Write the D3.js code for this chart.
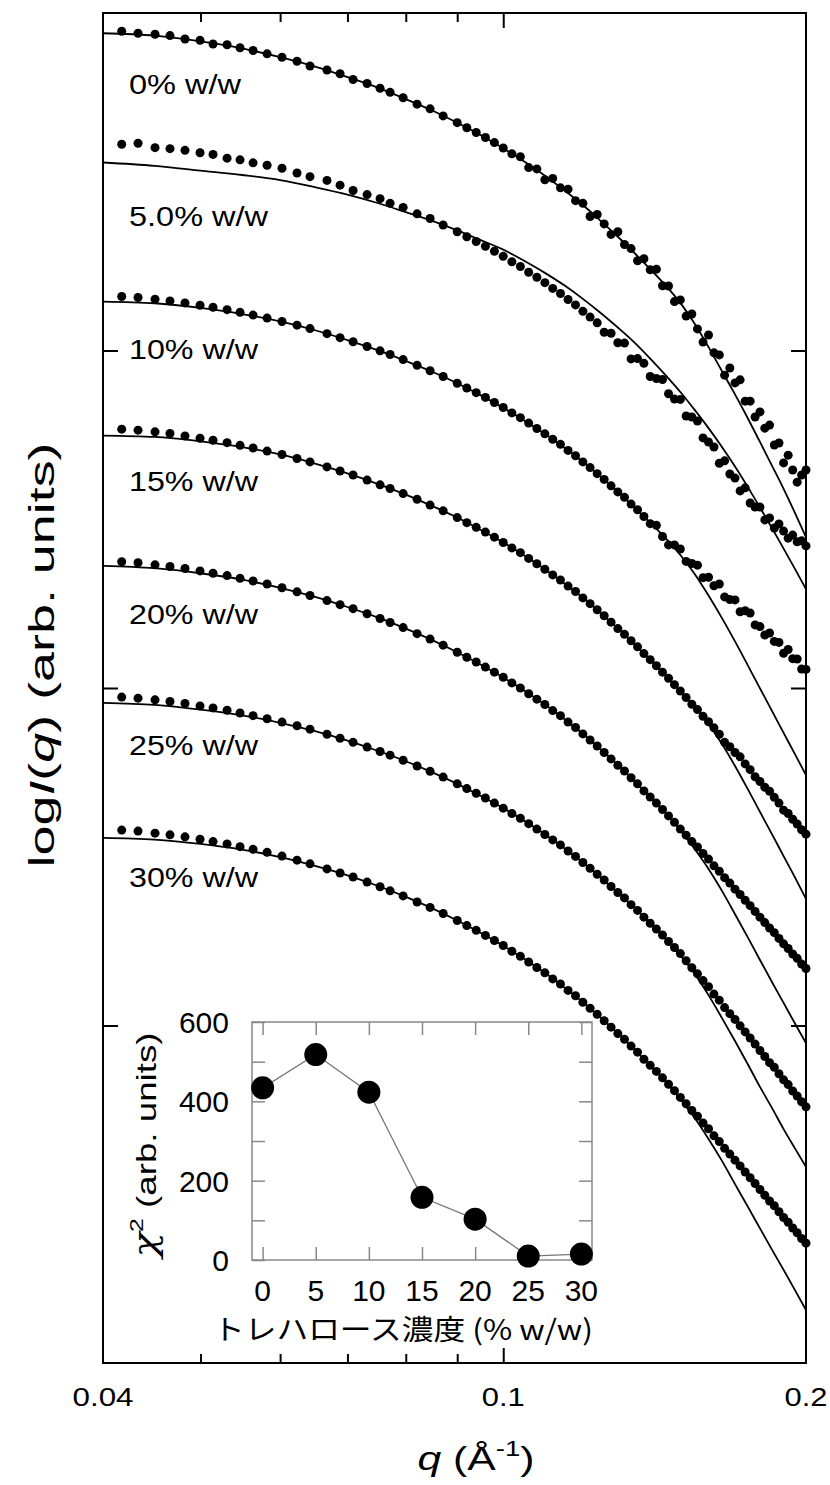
<!DOCTYPE html>
<html><head><meta charset="utf-8">
<script src="https://cdn.jsdelivr.net/npm/d3@7"></script>
<style>body{margin:0;background:#fff}</style>
</head><body>
<svg id="c" width="830" height="1485"></svg>
<script>
// ---------- DATA ----------
const qData = [0.04175,0.04334,0.04506,0.04663,0.04826,0.04995,0.05146,0.05314,0.05474,0.05640,0.05824,0.06026,0.06237,0.06425,0.06680,0.06883,0.07091,0.07322,0.07543,0.07718,0.07952,0.08210,0.08458,0.08715,
0.090,0.092,0.094,0.096,0.098,0.100,0.102,0.104,0.106,0.108,0.110,0.112,0.114,0.116,0.118,0.120,0.122,0.124,0.126,0.128,0.130,0.132,0.134,0.136,0.138,0.140,0.142,0.144,0.146,0.148,0.150,0.152,0.154,0.156,0.158,0.160,0.162,0.164,0.166,0.168,0.170,0.172,0.174,0.176,0.178,0.180,0.182,0.184,0.186,0.188,0.190,0.192,0.194,0.196,0.198,0.200];
const qFit = [0.04,0.045,0.05,0.055,0.06,0.065,0.07,0.075,0.08,0.085,0.09,0.095,0.1,0.105,0.11,0.115,0.12,0.125,0.13,0.135,0.14,0.145,0.15,0.155,0.16,0.165,0.17,0.175,0.18,0.185,0.19,0.195,0.2];

// log I(q) in decades (curves vertically shifted, arbitrary units)
const data0 = [3.946,3.940,3.937,3.933,3.923,3.919,3.908,3.906,3.897,3.889,3.879,3.869,3.857,3.843,3.831,3.820,3.803,3.791,3.777,3.765,3.749,3.730,3.716,3.695,
3.675,3.660,3.646,3.631,3.616,3.600,3.583,
3.574,3.542,3.538,3.506,3.510,3.482,3.478,3.444,3.436,3.397,3.403,3.375,3.344,3.352,3.314,3.302,3.266,3.272,3.239,3.241,3.192,3.191,3.145,
3.150,3.102,3.108,3.064,3.025,3.046,2.993,2.987,2.927,2.948,2.904,2.913,2.850,2.850,2.803,2.818,2.770,2.779,2.720,2.726,2.667,2.690,2.646,2.610,2.631,2.646];
const data5 = [3.611,3.614,3.601,3.598,3.593,3.586,3.581,3.570,3.565,3.556,3.549,3.540,3.526,3.515,3.504,3.490,3.474,3.462,3.450,3.436,3.424,3.405,3.391,3.372,
3.352,3.337,3.323,3.309,3.294,3.279,3.263,3.249,3.232,3.217,3.201,3.184,3.169,3.151,3.135,3.116,3.099,3.082,
3.054,3.051,3.023,3.022,2.975,2.976,2.962,2.923,2.917,2.914,2.872,2.856,2.855,2.806,2.803,2.791,2.741,2.729,2.714,2.666,2.673,2.634,2.622,2.584,2.593,2.548,2.536,2.536,2.498,2.504,2.474,2.486,2.465,2.444,2.453,2.433,2.436,2.421];
const data10 = [3.160,3.157,3.152,3.147,3.141,3.134,3.128,3.121,3.113,3.105,3.096,3.086,3.075,3.065,3.050,3.038,3.026,3.012,2.999,2.988,2.973,2.956,2.940,2.923,
2.903,2.889,2.875,2.861,2.846,2.831,2.815,2.801,2.785,2.769,2.753,2.737,2.722,2.704,2.688,2.670,2.653,2.635,2.618,2.599,2.581,2.565,2.545,2.528,2.508,
2.487,2.482,2.449,2.424,2.424,2.412,2.375,2.369,2.364,2.327,2.328,2.303,2.308,2.270,2.262,2.261,2.226,2.229,2.222,2.187,2.182,2.157,2.163,2.138,2.135,2.103,2.114,2.087,2.086,2.056,2.055];
const data15 = [2.767,2.764,2.759,2.754,2.747,2.740,2.734,2.727,2.719,2.711,2.702,2.692,2.680,2.670,2.655,2.643,2.631,2.616,2.602,2.591,2.576,2.559,2.542,2.525,
2.505,2.490,2.476,2.462,2.447,2.431,2.415,2.401,2.384,2.368,2.352,2.335,2.320,2.302,2.286,2.267,2.250,2.232,2.214,2.195,2.176,2.159,2.140,2.122,2.102,2.084,2.066,2.047,2.029,2.010,1.991,1.972,1.952,1.936,1.916,1.900,1.882,1.863,1.839,1.826,1.809,1.796,1.775,1.758,1.737,1.723,1.706,1.694,1.676,1.659,1.638,1.628,1.611,1.597,1.580,1.567];
const data20 = [2.374,2.371,2.365,2.360,2.354,2.347,2.340,2.333,2.325,2.317,2.308,2.297,2.285,2.274,2.259,2.247,2.235,2.220,2.206,2.194,2.179,2.161,2.145,2.127,
2.106,2.091,2.077,2.062,2.047,2.032,2.015,2.000,1.983,1.967,1.951,1.933,1.918,1.899,1.883,1.864,1.846,1.828,1.809,1.790,1.771,1.754,1.734,1.716,1.695,1.677,1.659,1.640,1.621,1.602,1.582,1.564,1.545,1.529,1.510,1.493,1.473,1.457,1.438,1.422,1.404,1.388,1.371,1.355,1.338,1.321,1.305,1.289,1.275,1.258,1.242,1.228,1.212,1.199,1.182,1.169];
const data25 = [1.973,1.970,1.965,1.960,1.954,1.947,1.941,1.934,1.926,1.918,1.909,1.899,1.888,1.878,1.863,1.851,1.839,1.825,1.812,1.801,1.786,1.769,1.753,1.736,
1.716,1.702,1.688,1.674,1.659,1.644,1.628,1.614,1.598,1.582,1.566,1.550,1.535,1.517,1.501,1.483,1.466,1.448,1.431,1.412,1.394,1.378,1.358,1.341,1.321,1.303,1.286,1.268,1.249,1.231,1.213,1.192,1.171,1.153,1.133,1.115,1.093,1.075,1.053,1.035,1.018,0.999,0.981,0.963,0.945,0.926,0.908,0.890,0.876,0.857,0.839,0.825,0.806,0.791,0.774,0.759];
const data30 = [1.579,1.576,1.570,1.565,1.559,1.552,1.545,1.538,1.530,1.522,1.513,1.502,1.490,1.479,1.464,1.452,1.440,1.425,1.411,1.399,1.384,1.366,1.350,1.332,
1.311,1.296,1.282,1.267,1.252,1.237,1.220,1.205,1.188,1.172,1.156,1.138,1.123,1.104,1.088,1.069,1.051,1.033,1.014,0.995,0.976,0.959,0.939,0.921,0.900,0.882,0.864,0.845,0.826,0.807,0.787,0.768,0.748,0.731,0.711,0.694,0.673,0.656,0.636,0.619,0.601,0.584,0.566,0.549,0.532,0.514,0.497,0.480,0.466,0.448,0.431,0.417,0.400,0.386,0.369,0.355];

const fit0 = [3.940,3.933,3.916,3.895,3.869,3.841,3.810,3.779,3.745,3.711,3.675,3.638,3.599,3.559,3.518,3.475,3.431,3.384,3.337,3.289,3.241,3.193,3.141,3.079,3.010,2.939,2.870,2.800,2.729,2.659,2.590,2.519,2.447];
const fit5 = [3.557,3.547,3.533,3.520,3.505,3.484,3.462,3.437,3.410,3.384,3.356,3.327,3.299,3.265,3.230,3.193,3.153,3.111,3.068,3.024,2.976,2.927,2.877,2.824,2.770,2.714,2.656,2.596,2.535,2.474,2.413,2.353,2.293];
const fit10 = [3.145,3.140,3.126,3.108,3.086,3.060,3.031,3.001,2.969,2.937,2.903,2.867,2.830,2.792,2.753,2.712,2.670,2.626,2.581,2.535,2.490,2.444,2.394,2.338,2.274,2.207,2.138,2.068,1.999,1.932,1.867,1.804,1.742];
const fit15 = [2.748,2.744,2.731,2.714,2.692,2.665,2.636,2.605,2.573,2.539,2.505,2.468,2.431,2.392,2.352,2.310,2.267,2.222,2.177,2.130,2.083,2.036,1.990,1.944,1.893,1.834,1.769,1.701,1.633,1.567,1.502,1.439,1.375];
const fit20 = [2.362,2.355,2.340,2.321,2.297,2.270,2.240,2.209,2.176,2.142,2.106,2.069,2.031,1.992,1.951,1.908,1.864,1.818,1.772,1.724,1.676,1.629,1.579,1.523,1.464,1.399,1.330,1.262,1.194,1.129,1.067,1.006,0.948];
const fit25 = [1.956,1.950,1.936,1.919,1.897,1.872,1.844,1.814,1.783,1.750,1.716,1.680,1.644,1.606,1.567,1.525,1.483,1.439,1.394,1.349,1.303,1.257,1.207,1.153,1.090,1.022,0.954,0.886,0.818,0.756,0.693,0.636,0.581];
const fit30 = [1.556,1.551,1.538,1.521,1.499,1.473,1.445,1.414,1.381,1.347,1.311,1.274,1.236,1.197,1.156,1.113,1.069,1.023,0.977,0.929,0.881,0.834,0.782,0.726,0.664,0.599,0.530,0.464,0.399,0.336,0.276,0.216,0.157];

const seriesLabels = ["0% w/w","5.0% w/w","10% w/w","15% w/w","20% w/w","25% w/w","30% w/w"];
const xMajorTicks = [0.04, 0.1, 0.2];
const xMajorLabels = ["0.04", "0.1", "0.2"];
const xMinorTicks = [0.05, 0.06, 0.07, 0.08, 0.09];
const yDecadeTicks = [1, 2, 3];

const insetConc = [0, 5, 10, 15, 20, 25, 30];
const insetChi2 = [434, 518, 423, 158, 103, 10, 15];
const insetYTicks = [0, 100, 200, 300, 400, 500, 600];
const insetYLabels = [0, 200, 400, 600];

// ---------- DRAW ----------
const svg = d3.select("#c");
const FONT = "'Liberation Sans', Arial, Helvetica, sans-serif";
const x = d3.scaleLog().domain([0.04, 0.2]).range([103, 806]);
const y = d3.scaleLinear().domain([0, 4]).range([1363, 13]);

const dataSets = [data0, data5, data10, data15, data20, data25, data30];
const fitSets = [fit0, fit5, fit10, fit15, fit20, fit25, fit30];

const plot = svg.append("g");
const line = d3.line().x(d => x(d[0])).y(d => y(d[1])).curve(d3.curveMonotoneX);

fitSets.forEach(f => {
  plot.append("path").datum(qFit.map((q, i) => [q, f[i]]))
    .attr("d", line).attr("fill", "none").attr("stroke", "#000").attr("stroke-width", 1.8);
});
dataSets.forEach(ds => {
  plot.append("g").selectAll("circle").data(qData.map((q, i) => [q, ds[i]])).join("circle")
    .attr("cx", d => x(d[0])).attr("cy", d => y(d[1])).attr("r", 4.5).attr("fill", "#000");
});

// frame
svg.append("rect").attr("x", 103).attr("y", 13).attr("width", 703).attr("height", 1350)
  .attr("fill", "none").attr("stroke", "#000").attr("stroke-width", 2);

function styleAxis(g) { g.select(".domain").remove(); g.selectAll("line").attr("stroke", "#000").attr("stroke-width", 2); }
svg.append("g").attr("transform", "translate(0,1363)").call(d3.axisBottom(x).tickValues(xMinorTicks).tickSize(-9).tickFormat("")).call(styleAxis);
svg.append("g").attr("transform", "translate(0,1363)").call(d3.axisBottom(x).tickValues([0.1]).tickSize(-15).tickFormat("")).call(styleAxis);
svg.append("g").attr("transform", "translate(0,13)").call(d3.axisTop(x).tickValues(xMinorTicks).tickSize(-9).tickFormat("")).call(styleAxis);
svg.append("g").attr("transform", "translate(0,13)").call(d3.axisTop(x).tickValues([0.1]).tickSize(-15).tickFormat("")).call(styleAxis);
svg.append("g").attr("transform", "translate(103,0)").call(d3.axisLeft(y).tickValues(yDecadeTicks).tickSize(-15).tickFormat("")).call(styleAxis);
svg.append("g").attr("transform", "translate(806,0)").call(d3.axisRight(y).tickValues(yDecadeTicks).tickSize(-15).tickFormat("")).call(styleAxis);

// x tick labels
const tickLen = [61, 43, 43];
svg.append("g").selectAll("text").data(xMajorTicks).join("text")
  .attr("x", d => x(d)).attr("y", 1406).attr("text-anchor", "middle")
  .attr("font-family", FONT).attr("font-size", 26)
  .attr("textLength", (d, i) => tickLen[i]).attr("lengthAdjust", "spacingAndGlyphs")
  .text((d, i) => xMajorLabels[i]);

// series labels
const labelBase = [94, 226, 359, 491, 624, 755, 887];
const labelLen = [112, 139, 129, 129, 129, 129, 129];
svg.append("g").selectAll("text").data(seriesLabels).join("text")
  .attr("x", 129).attr("y", (d, i) => labelBase[i])
  .attr("font-family", FONT).attr("font-size", 28)
  .attr("textLength", (d, i) => labelLen[i]).attr("lengthAdjust", "spacingAndGlyphs")
  .text(d => d);

// axis titles
const xt = svg.append("text").attr("x", 476).attr("y", 1470).attr("text-anchor", "middle")
  .attr("font-family", FONT).attr("font-size", 34)
  .attr("textLength", 117).attr("lengthAdjust", "spacingAndGlyphs");
xt.append("tspan").attr("font-style", "italic").text("q");
xt.append("tspan").text(" (Å");
xt.append("tspan").attr("font-size", 22).attr("dy", -14).text("-1");
xt.append("tspan").attr("dy", 14).text(")");

const yt = svg.append("text").attr("transform", "translate(54,655) rotate(-90)").attr("text-anchor", "middle")
  .attr("font-family", FONT).attr("font-size", 35)
  .attr("textLength", 425).attr("lengthAdjust", "spacingAndGlyphs");
yt.append("tspan").text("log");
yt.append("tspan").attr("font-style", "italic").text("I");
yt.append("tspan").text("(");
yt.append("tspan").attr("font-style", "italic").text("q");
yt.append("tspan").text(") (arb. units)");

// ---------- INSET ----------
const ix = d3.scaleLinear().domain([-1, 31]).range([252, 592]);
const iy = d3.scaleLinear().domain([0, 600]).range([1260, 1022]);
const inset = svg.append("g");
inset.append("rect").attr("x", 252).attr("y", 1022).attr("width", 340).attr("height", 238)
  .attr("fill", "#fff").attr("stroke", "#888").attr("stroke-width", 1.5);
function styleInset(g) { g.select(".domain").remove(); g.selectAll("line").attr("stroke", "#888").attr("stroke-width", 1.5); }
inset.append("g").attr("transform", "translate(0,1260)").call(d3.axisBottom(ix).tickValues(insetConc).tickSize(-13).tickFormat("")).call(styleInset);
inset.append("g").attr("transform", "translate(0,1022)").call(d3.axisTop(ix).tickValues(insetConc).tickSize(-13).tickFormat("")).call(styleInset);
inset.append("g").attr("transform", "translate(252,0)").call(d3.axisLeft(iy).tickValues(insetYTicks).tickSize(-13).tickFormat("")).call(styleInset);
inset.append("g").attr("transform", "translate(592,0)").call(d3.axisRight(iy).tickValues(insetYTicks).tickSize(-13).tickFormat("")).call(styleInset);

inset.append("path").datum(insetConc.map((c, i) => [c, insetChi2[i]]))
  .attr("d", d3.line().x(d => ix(d[0])).y(d => iy(d[1])))
  .attr("fill", "none").attr("stroke", "#777").attr("stroke-width", 1.3);
inset.append("g").selectAll("circle").data(insetConc.map((c, i) => [c, insetChi2[i]])).join("circle")
  .attr("cx", d => ix(d[0])).attr("cy", d => iy(d[1])).attr("r", 11.5).attr("fill", "#000");

inset.append("g").selectAll("text").data(insetYLabels).join("text")
  .attr("x", 229).attr("y", d => iy(d) + 11).attr("text-anchor", "end")
  .attr("font-family", FONT).attr("font-size", 30).text(d => d);
inset.append("g").selectAll("text").data(insetConc).join("text")
  .attr("x", d => ix(d)).attr("y", 1301).attr("text-anchor", "middle")
  .attr("font-family", FONT).attr("font-size", 30).text(d => d);
inset.append("text").attr("x", 403).attr("y", 1340).attr("text-anchor", "middle")
  .attr("font-family", "'Noto Sans CJK JP', " + FONT).attr("font-size", 28)
  .attr("textLength", 380).attr("lengthAdjust", "spacingAndGlyphs")
  .text("トレハロース濃度 (% w/w)");
const it = inset.append("text").attr("transform", "translate(156,1145) rotate(-90)").attr("text-anchor", "middle")
  .attr("font-family", FONT).attr("font-size", 28)
  .attr("textLength", 225).attr("lengthAdjust", "spacingAndGlyphs");
it.append("tspan").attr("font-style", "italic").attr("font-family", "'DejaVu Serif', serif").attr("font-size", 32).text("χ");
it.append("tspan").attr("font-size", 19).attr("dy", -13).text("2");
it.append("tspan").attr("dy", 13).text(" (arb. units)");
</script>
</body></html>
